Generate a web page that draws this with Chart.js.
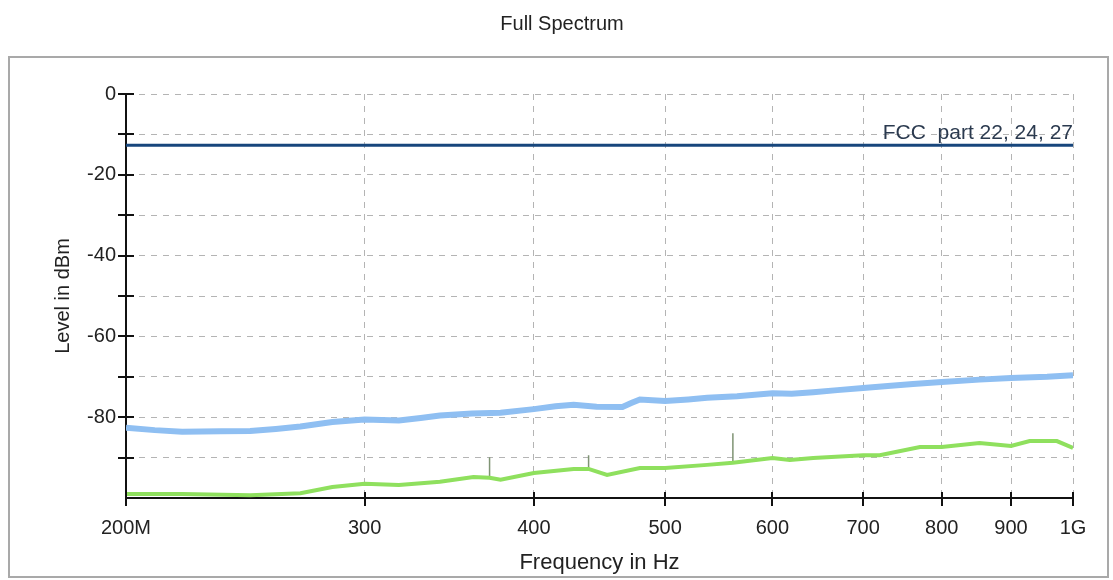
<!DOCTYPE html>
<html>
<head>
<meta charset="utf-8">
<script src="https://cdn.jsdelivr.net/npm/chart.js@4.4.1/dist/chart.umd.min.js"></script>
<style>
  html, body { margin: 0; padding: 0; background: #fff; }
  canvas { display: block; }
</style>
</head>
<body>
<canvas id="spectrumChart" width="1113" height="580"></canvas>
<script>
// frequencies in MHz
const xTickValues = [200, 300, 400, 500, 600, 700, 800, 900, 1000];
const xTickLabels = ["200M", "300", "400", "500", "600", "700", "800", "900", "1G"];
const yTickLabels = [0, -20, -40, -60, -80];

const blueFreqs = [200, 210, 220, 235, 247, 258, 269, 284, 300, 318, 330, 341, 360, 378, 400, 415, 428, 445, 465, 472, 479, 500, 520, 537, 565, 600, 620, 643, 670, 700, 730, 762, 800, 853, 900, 957, 1000];
const blueLevels = [-82.6, -83.2, -83.6, -83.5, -83.4, -82.9, -82.3, -81.2, -80.6, -80.8, -80.2, -79.6, -79.1, -78.9, -78.0, -77.3, -76.9, -77.4, -77.5, -76.5, -75.6, -76.0, -75.6, -75.2, -74.8, -74.1, -74.2, -73.8, -73.3, -72.8, -72.3, -71.8, -71.3, -70.7, -70.3, -70.0, -69.6];

const greenFreqs = [200, 220, 247, 269, 284, 300, 318, 341, 361, 371, 378, 400, 428, 439, 453, 479, 500, 537, 561, 600, 618, 643, 700, 720, 771, 800, 853, 900, 929, 973, 1000];
const greenLevels = [-99.0, -99.0, -99.3, -98.8, -97.3, -96.5, -96.8, -96.0, -94.8, -95.0, -95.5, -93.8, -92.8, -92.8, -94.3, -92.6, -92.6, -91.8, -91.3, -90.1, -90.6, -90.1, -89.4, -89.4, -87.4, -87.4, -86.4, -87.1, -85.9, -85.9, -87.6];

const spikeFreqs = [371, 439, 561];
const spikeBases = [-95.0, -92.8, -91.3];
const spikeTops = [-89.9, -89.4, -84.0];

const fccFreqs = [200, 1000];
const fccLevels = [-12.7, -12.7];
const fccLabel = "FCC  part 22, 24, 27";

const toPoints = (xs, ys) => xs.map((x, i) => ({ x: x, y: ys[i] }));

const spikePoints = [];
spikeFreqs.forEach((f, i) => {
  spikePoints.push({ x: f, y: spikeBases[i] }, { x: f, y: spikeTops[i] }, { x: f, y: null });
});

// gray panel behind the plot, white page
const panelPlugin = {
  id: "panel",
  beforeDraw(chart) {
    const ctx = chart.ctx;
    ctx.save();
    ctx.fillStyle = "#fff";
    ctx.fillRect(0, 0, chart.width, chart.height);
    ctx.strokeStyle = "#a9a9a9";
    ctx.lineWidth = 2;
    ctx.strokeRect(9, 57, 1099, 520);
    ctx.restore();
  },
};

// tick marks that cross the axis lines, plus the limit label
const axisMarksPlugin = {
  id: "axisMarks",
  afterDraw(chart) {
    const { ctx, chartArea, scales } = chart;
    ctx.save();
    ctx.strokeStyle = "#111";
    ctx.lineWidth = 2;
    ctx.beginPath();
    scales.y.ticks.forEach((t) => {
      if (t.value <= scales.y.min) return;
      const py = Math.round(scales.y.getPixelForValue(t.value));
      ctx.moveTo(chartArea.left - 8, py);
      ctx.lineTo(chartArea.left + 8, py);
    });
    scales.x.ticks.forEach((t) => {
      const px = Math.round(scales.x.getPixelForValue(t.value));
      ctx.moveTo(px, chartArea.bottom - 6);
      ctx.lineTo(px, chartArea.bottom + 8);
    });
    ctx.stroke();

    const ly = scales.y.getPixelForValue(fccLevels[0]);
    ctx.fillStyle = "#2b3a4f";
    ctx.font = "21px 'Liberation Sans', Arial, sans-serif";
    ctx.textAlign = "right";
    ctx.textBaseline = "alphabetic";
    ctx.fillText(fccLabel, chartArea.right, ly - 6);
    ctx.restore();
  },
};

const gridOpts = { color: "#b4b4b4", lineWidth: 1, drawTicks: false };
const borderOpts = { display: true, color: "#111", width: 2, dash: [6, 6] };

new Chart(document.getElementById("spectrumChart"), {
  type: "line",
  data: {
    datasets: [
      {
        label: "Peak",
        data: toPoints(blueFreqs, blueLevels),
        borderColor: "#8fbff2",
        borderWidth: 6,
        pointRadius: 0,
        tension: 0,
      },
      {
        label: "Average",
        data: toPoints(greenFreqs, greenLevels),
        borderColor: "#8fe05e",
        borderWidth: 4,
        pointRadius: 0,
        tension: 0,
      },
      {
        label: "Spikes",
        data: spikePoints,
        borderColor: "#7f9474",
        borderWidth: 1.5,
        pointRadius: 0,
        spanGaps: false,
      },
      {
        label: "FCC",
        data: toPoints(fccFreqs, fccLevels),
        borderColor: "#17467c",
        borderWidth: 3,
        pointRadius: 0,
      },
    ],
  },
  options: {
    responsive: false,
    animation: false,
    devicePixelRatio: 1,
    layout: { padding: { left: 51, right: 40, top: 0, bottom: 0 } },
    plugins: {
      legend: { display: false },
      tooltip: { enabled: false },
      title: {
        display: true,
        text: "Full Spectrum",
        color: "#222",
        font: { family: "'Liberation Sans', Arial, sans-serif", size: 20, weight: "normal" },
        padding: { top: 12, bottom: 58 },
      },
    },
    scales: {
      x: {
        type: "logarithmic",
        min: 200,
        max: 1000,
        afterBuildTicks: (scale) => {
          scale.ticks = xTickValues.map((v) => ({ value: v }));
        },
        afterFit: (scale) => {
          scale.height = 82;
        },
        ticks: {
          autoSkip: false,
          maxRotation: 0,
          padding: 18,
          color: "#222",
          font: { family: "'Liberation Sans', Arial, sans-serif", size: 20 },
          callback: (value, index) => xTickLabels[index],
        },
        grid: gridOpts,
        border: borderOpts,
        title: {
          display: true,
          text: "Frequency in Hz",
          color: "#222",
          font: { family: "'Liberation Sans', Arial, sans-serif", size: 22 },
          padding: { top: 0, bottom: 4 },
        },
      },
      y: {
        type: "linear",
        min: -100,
        max: 0,
        afterFit: (scale) => {
          scale.width = 75;
        },
        ticks: {
          stepSize: 10,
          padding: 10,
          color: "#222",
          font: { family: "'Liberation Sans', Arial, sans-serif", size: 20 },
          callback: (value) => (yTickLabels.includes(value) ? value : ""),
        },
        grid: gridOpts,
        border: borderOpts,
        title: {
          display: true,
          text: "Level in dBm",
          color: "#222",
          font: { family: "'Liberation Sans', Arial, sans-serif", size: 20 },
          padding: 0,
        },
      },
    },
  },
  plugins: [panelPlugin, axisMarksPlugin],
});
</script>
</body>
</html>
